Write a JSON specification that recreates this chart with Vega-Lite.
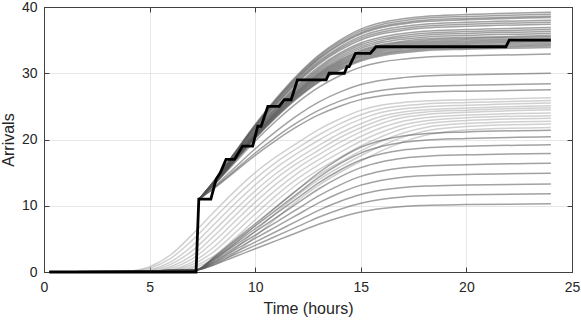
{
"$schema": "https://vega.github.io/schema/vega-lite/v6.json",
"width": 528, "height": 265,
"autosize": {"type": "none"},
"padding": {"left": 44, "top": 7, "right": 9, "bottom": 49},
"config": {
 "font": "Liberation Sans",
 "view": {"stroke": "#404040", "strokeWidth": 1},
 "axis": {"domainColor": "#404040", "tickColor": "#404040", "labelColor": "#262626", "titleColor": "#262626", "labelFontSize": 14, "titleFontSize": 16, "titleFontWeight": "normal", "tickSize": -5, "labelFlush": false, "labelOverlap": false, "gridColor": "#e6e6e6", "gridWidth": 1}
},
"datasets": {
"light": [
{"c":1,"t":0.25,"y":0},{"c":1,"t":3.5,"y":0},{"c":1,"t":4,"y":0.1},{"c":1,"t":5,"y":0.8},{"c":1,"t":6,"y":2.6},{"c":1,"t":7,"y":5.6},{"c":1,"t":8,"y":8.9},{"c":1,"t":9,"y":12.1},{"c":1,"t":10,"y":15.0},{"c":1,"t":11,"y":17.4},{"c":1,"t":12,"y":19.5},{"c":1,"t":13,"y":21.5},{"c":1,"t":14,"y":23.1},{"c":1,"t":15,"y":24.4},{"c":1,"t":16,"y":25.2},{"c":1,"t":17,"y":25.6},{"c":1,"t":18,"y":25.8},{"c":1,"t":20,"y":26.0},{"c":1,"t":24,"y":26.3},
{"c":2,"t":0.25,"y":0},{"c":2,"t":3.75,"y":0},{"c":2,"t":4,"y":0.05},{"c":2,"t":5,"y":0.58},{"c":2,"t":6,"y":2.06},{"c":2,"t":7,"y":4.73},{"c":2,"t":8,"y":7.94},{"c":2,"t":9,"y":11.14},{"c":2,"t":10,"y":14.06},{"c":2,"t":11,"y":16.58},{"c":2,"t":12,"y":18.7},{"c":2,"t":13,"y":20.68},{"c":2,"t":14,"y":22.36},{"c":2,"t":15,"y":23.74},{"c":2,"t":16,"y":24.64},{"c":2,"t":17,"y":25.11},{"c":2,"t":18,"y":25.36},{"c":2,"t":20,"y":25.59},{"c":2,"t":24,"y":25.9},
{"c":3,"t":0.25,"y":0},{"c":3,"t":4,"y":0},{"c":3,"t":5,"y":0.33},{"c":3,"t":6,"y":1.53},{"c":3,"t":7,"y":3.88},{"c":3,"t":8,"y":7.01},{"c":3,"t":9,"y":10.2},{"c":3,"t":10,"y":13.16},{"c":3,"t":11,"y":15.76},{"c":3,"t":12,"y":17.93},{"c":3,"t":13,"y":19.89},{"c":3,"t":14,"y":21.65},{"c":3,"t":15,"y":23.08},{"c":3,"t":16,"y":24.1},{"c":3,"t":17,"y":24.63},{"c":3,"t":18,"y":24.91},{"c":3,"t":20,"y":25.17},{"c":3,"t":24,"y":25.5},
{"c":4,"t":0.25,"y":0},{"c":4,"t":4.25,"y":0},{"c":4,"t":5,"y":0.21},{"c":4,"t":6,"y":1.15},{"c":4,"t":7,"y":3.15},{"c":4,"t":8,"y":6.12},{"c":4,"t":9,"y":9.26},{"c":4,"t":10,"y":12.25},{"c":4,"t":11,"y":14.91},{"c":4,"t":12,"y":17.13},{"c":4,"t":13,"y":19.09},{"c":4,"t":14,"y":20.91},{"c":4,"t":15,"y":22.38},{"c":4,"t":16,"y":23.51},{"c":4,"t":17,"y":24.15},{"c":4,"t":18,"y":24.47},{"c":4,"t":20,"y":24.75},{"c":4,"t":24,"y":25.1},
{"c":5,"t":0.25,"y":0},{"c":5,"t":4.5,"y":0},{"c":5,"t":5,"y":0.1},{"c":5,"t":6,"y":0.79},{"c":5,"t":7,"y":2.46},{"c":5,"t":8,"y":5.28},{"c":5,"t":9,"y":8.38},{"c":5,"t":10,"y":11.41},{"c":5,"t":11,"y":14.14},{"c":5,"t":12,"y":16.42},{"c":5,"t":13,"y":18.38},{"c":5,"t":14,"y":20.26},{"c":5,"t":15,"y":21.77},{"c":5,"t":16,"y":23.01},{"c":5,"t":17,"y":23.76},{"c":5,"t":18,"y":24.13},{"c":5,"t":20,"y":24.43},{"c":5,"t":24,"y":24.8},
{"c":6,"t":0.25,"y":0},{"c":6,"t":4.75,"y":0},{"c":6,"t":5,"y":0.05},{"c":6,"t":6,"y":0.55},{"c":6,"t":7,"y":1.95},{"c":6,"t":8,"y":4.47},{"c":6,"t":9,"y":7.51},{"c":6,"t":10,"y":10.54},{"c":6,"t":11,"y":13.3},{"c":6,"t":12,"y":15.68},{"c":6,"t":13,"y":17.69},{"c":6,"t":14,"y":19.56},{"c":6,"t":15,"y":21.16},{"c":6,"t":16,"y":22.45},{"c":6,"t":17,"y":23.31},{"c":6,"t":18,"y":23.75},{"c":6,"t":20,"y":24.11},{"c":6,"t":24,"y":24.5},
{"c":7,"t":0.25,"y":0},{"c":7,"t":5,"y":0},{"c":7,"t":6,"y":0.31},{"c":7,"t":7,"y":1.45},{"c":7,"t":8,"y":3.66},{"c":7,"t":9,"y":6.63},{"c":7,"t":10,"y":9.64},{"c":7,"t":11,"y":12.44},{"c":7,"t":12,"y":14.89},{"c":7,"t":13,"y":16.94},{"c":7,"t":14,"y":18.8},{"c":7,"t":15,"y":20.46},{"c":7,"t":16,"y":21.81},{"c":7,"t":17,"y":22.77},{"c":7,"t":18,"y":23.28},{"c":7,"t":20,"y":23.69},{"c":7,"t":24,"y":24.0},
{"c":8,"t":0.25,"y":0},{"c":8,"t":5.25,"y":0},{"c":8,"t":6,"y":0.2},{"c":8,"t":7,"y":1.09},{"c":8,"t":8,"y":2.97},{"c":8,"t":9,"y":5.78},{"c":8,"t":10,"y":8.75},{"c":8,"t":11,"y":11.57},{"c":8,"t":12,"y":14.08},{"c":8,"t":13,"y":16.18},{"c":8,"t":14,"y":18.02},{"c":8,"t":15,"y":19.74},{"c":8,"t":16,"y":21.13},{"c":8,"t":17,"y":22.2},{"c":8,"t":18,"y":22.8},{"c":8,"t":20,"y":23.27},{"c":8,"t":24,"y":23.6},
{"c":9,"t":0.25,"y":0},{"c":9,"t":5.5,"y":0},{"c":9,"t":6,"y":0.09},{"c":9,"t":7,"y":0.75},{"c":9,"t":8,"y":2.31},{"c":9,"t":9,"y":4.96},{"c":9,"t":10,"y":7.88},{"c":9,"t":11,"y":10.72},{"c":9,"t":12,"y":13.28},{"c":9,"t":13,"y":15.42},{"c":9,"t":14,"y":17.27},{"c":9,"t":15,"y":19.04},{"c":9,"t":16,"y":20.46},{"c":9,"t":17,"y":21.62},{"c":9,"t":18,"y":22.32},{"c":9,"t":20,"y":22.86},{"c":9,"t":24,"y":23.2},
{"c":10,"t":0.25,"y":0},{"c":10,"t":5.75,"y":0},{"c":10,"t":6,"y":0.05},{"c":10,"t":7,"y":0.52},{"c":10,"t":8,"y":1.82},{"c":10,"t":9,"y":4.18},{"c":10,"t":10,"y":7.02},{"c":10,"t":11,"y":9.85},{"c":10,"t":12,"y":12.43},{"c":10,"t":13,"y":14.66},{"c":10,"t":14,"y":16.53},{"c":10,"t":15,"y":18.29},{"c":10,"t":16,"y":19.77},{"c":10,"t":17,"y":20.99},{"c":10,"t":18,"y":21.79},{"c":10,"t":20,"y":22.42},{"c":10,"t":24,"y":22.76},
{"c":11,"t":0.25,"y":0},{"c":11,"t":6,"y":0},{"c":11,"t":7,"y":0.29},{"c":11,"t":8,"y":1.35},{"c":11,"t":9,"y":3.42},{"c":11,"t":10,"y":6.19},{"c":11,"t":11,"y":9.0},{"c":11,"t":12,"y":11.61},{"c":11,"t":13,"y":13.91},{"c":11,"t":14,"y":15.82},{"c":11,"t":15,"y":17.55},{"c":11,"t":16,"y":19.1},{"c":11,"t":17,"y":20.36},{"c":11,"t":18,"y":21.26},{"c":11,"t":20,"y":21.98},{"c":11,"t":24,"y":22.34},
{"c":12,"t":0.25,"y":0},{"c":12,"t":6.25,"y":0},{"c":12,"t":7,"y":0.19},{"c":12,"t":8,"y":1.01},{"c":12,"t":9,"y":2.76},{"c":12,"t":10,"y":5.37},{"c":12,"t":11,"y":8.12},{"c":12,"t":12,"y":10.74},{"c":12,"t":13,"y":13.07},{"c":12,"t":14,"y":15.02},{"c":12,"t":15,"y":16.73},{"c":12,"t":16,"y":18.33},{"c":12,"t":17,"y":19.61},{"c":12,"t":18,"y":20.6},{"c":12,"t":20,"y":21.45},{"c":12,"t":24,"y":21.82}
],
"mid": [
{"c":1,"t":0.25,"y":0},{"c":1,"t":7.2,"y":0.3},{"c":1,"t":8,"y":1.03},{"c":1,"t":9,"y":2.27},{"c":1,"t":10,"y":3.5},{"c":1,"t":11,"y":4.74},{"c":1,"t":12,"y":5.97},{"c":1,"t":13,"y":7.21},{"c":1,"t":14,"y":8.24},{"c":1,"t":15,"y":9.06},{"c":1,"t":16,"y":9.58},{"c":1,"t":17,"y":9.89},{"c":1,"t":18,"y":10.04},{"c":1,"t":20,"y":10.18},{"c":1,"t":24,"y":10.3},
{"c":2,"t":0.25,"y":0},{"c":2,"t":7.2,"y":0.3},{"c":2,"t":8,"y":1.18},{"c":2,"t":9,"y":2.6},{"c":2,"t":10,"y":4.01},{"c":2,"t":11,"y":5.43},{"c":2,"t":12,"y":6.84},{"c":2,"t":13,"y":8.26},{"c":2,"t":14,"y":9.44},{"c":2,"t":15,"y":10.38},{"c":2,"t":16,"y":10.97},{"c":2,"t":17,"y":11.33},{"c":2,"t":18,"y":11.51},{"c":2,"t":20,"y":11.66},{"c":2,"t":24,"y":11.8},
{"c":3,"t":0.25,"y":0},{"c":3,"t":7.2,"y":0.3},{"c":3,"t":8,"y":1.33},{"c":3,"t":9,"y":2.93},{"c":3,"t":10,"y":4.52},{"c":3,"t":11,"y":6.12},{"c":3,"t":12,"y":7.71},{"c":3,"t":13,"y":9.31},{"c":3,"t":14,"y":10.64},{"c":3,"t":15,"y":11.7},{"c":3,"t":16,"y":12.37},{"c":3,"t":17,"y":12.77},{"c":3,"t":18,"y":12.97},{"c":3,"t":20,"y":13.14},{"c":3,"t":24,"y":13.3},
{"c":4,"t":0.25,"y":0},{"c":4,"t":7.2,"y":0.3},{"c":4,"t":8,"y":1.49},{"c":4,"t":9,"y":3.28},{"c":4,"t":10,"y":5.07},{"c":4,"t":11,"y":6.85},{"c":4,"t":12,"y":8.64},{"c":4,"t":13,"y":10.43},{"c":4,"t":14,"y":11.92},{"c":4,"t":15,"y":13.11},{"c":4,"t":16,"y":13.86},{"c":4,"t":17,"y":14.3},{"c":4,"t":18,"y":14.53},{"c":4,"t":20,"y":14.72},{"c":4,"t":24,"y":14.9},
{"c":5,"t":0.25,"y":0},{"c":5,"t":7.2,"y":0.3},{"c":5,"t":8,"y":1.64},{"c":5,"t":9,"y":3.61},{"c":5,"t":10,"y":5.58},{"c":5,"t":11,"y":7.54},{"c":5,"t":12,"y":9.51},{"c":5,"t":13,"y":11.48},{"c":5,"t":14,"y":13.12},{"c":5,"t":15,"y":14.43},{"c":5,"t":16,"y":15.25},{"c":5,"t":17,"y":15.74},{"c":5,"t":18,"y":15.99},{"c":5,"t":20,"y":16.2},{"c":5,"t":24,"y":16.4},
{"c":6,"t":0.25,"y":0},{"c":6,"t":7.2,"y":0.3},{"c":6,"t":8,"y":1.79},{"c":6,"t":9,"y":3.94},{"c":6,"t":10,"y":6.09},{"c":6,"t":11,"y":8.23},{"c":6,"t":12,"y":10.38},{"c":6,"t":13,"y":12.53},{"c":6,"t":14,"y":14.32},{"c":6,"t":15,"y":15.75},{"c":6,"t":16,"y":16.65},{"c":6,"t":17,"y":17.18},{"c":6,"t":18,"y":17.45},{"c":6,"t":20,"y":17.69},{"c":6,"t":24,"y":17.9},
{"c":7,"t":0.25,"y":0},{"c":7,"t":7.2,"y":0.3},{"c":7,"t":8,"y":1.92},{"c":7,"t":9,"y":4.22},{"c":7,"t":10,"y":6.53},{"c":7,"t":11,"y":8.83},{"c":7,"t":12,"y":11.14},{"c":7,"t":13,"y":13.44},{"c":7,"t":14,"y":15.36},{"c":7,"t":15,"y":16.9},{"c":7,"t":16,"y":17.86},{"c":7,"t":17,"y":18.43},{"c":7,"t":18,"y":18.72},{"c":7,"t":20,"y":18.97},{"c":7,"t":24,"y":19.2},
{"c":8,"t":0.25,"y":0},{"c":8,"t":7.2,"y":0.3},{"c":8,"t":8,"y":2.04},{"c":8,"t":9,"y":4.49},{"c":8,"t":10,"y":6.94},{"c":8,"t":11,"y":9.38},{"c":8,"t":12,"y":11.83},{"c":8,"t":13,"y":14.28},{"c":8,"t":14,"y":16.32},{"c":8,"t":15,"y":17.95},{"c":8,"t":16,"y":18.97},{"c":8,"t":17,"y":19.58},{"c":8,"t":18,"y":19.89},{"c":8,"t":20,"y":20.16},{"c":8,"t":24,"y":20.4},
{"c":9,"t":0.25,"y":0},{"c":9,"t":7.2,"y":0.3},{"c":9,"t":8,"y":2.14},{"c":9,"t":9,"y":4.71},{"c":9,"t":10,"y":7.28},{"c":9,"t":11,"y":9.84},{"c":9,"t":12,"y":12.41},{"c":9,"t":13,"y":14.98},{"c":9,"t":14,"y":17.12},{"c":9,"t":15,"y":18.83},{"c":9,"t":16,"y":19.9},{"c":9,"t":17,"y":20.54},{"c":9,"t":18,"y":20.87},{"c":9,"t":20,"y":21.14},{"c":9,"t":24,"y":21.4}
],
"upper": [
{"c":1,"t":7.35,"y":11},{"c":1,"t":8,"y":13.54},{"c":1,"t":9,"y":17.91},{"c":1,"t":10,"y":22.28},{"c":1,"t":11,"y":26.23},{"c":1,"t":12,"y":29.75},{"c":1,"t":13,"y":32.71},{"c":1,"t":14,"y":34.97},{"c":1,"t":15,"y":36.66},{"c":1,"t":16,"y":37.65},{"c":1,"t":17,"y":38.21},{"c":1,"t":18,"y":38.58},{"c":1,"t":20,"y":38.86},{"c":1,"t":24,"y":39.2},
{"c":2,"t":7.35,"y":11},{"c":2,"t":8,"y":13.51},{"c":2,"t":9,"y":17.84},{"c":2,"t":10,"y":22.16},{"c":2,"t":11,"y":26.07},{"c":2,"t":12,"y":29.55},{"c":2,"t":13,"y":32.48},{"c":2,"t":14,"y":34.72},{"c":2,"t":15,"y":36.39},{"c":2,"t":16,"y":37.37},{"c":2,"t":17,"y":37.92},{"c":2,"t":18,"y":38.29},{"c":2,"t":20,"y":38.57},{"c":2,"t":24,"y":38.9},
{"c":3,"t":7.35,"y":11},{"c":3,"t":8,"y":13.48},{"c":3,"t":9,"y":17.76},{"c":3,"t":10,"y":22.04},{"c":3,"t":11,"y":25.9},{"c":3,"t":12,"y":29.35},{"c":3,"t":13,"y":32.25},{"c":3,"t":14,"y":34.46},{"c":3,"t":15,"y":36.12},{"c":3,"t":16,"y":37.08},{"c":3,"t":17,"y":37.63},{"c":3,"t":18,"y":37.99},{"c":3,"t":20,"y":38.27},{"c":3,"t":24,"y":38.6},
{"c":4,"t":7.35,"y":11},{"c":4,"t":8,"y":13.47},{"c":4,"t":9,"y":17.71},{"c":4,"t":10,"y":21.96},{"c":4,"t":11,"y":25.8},{"c":4,"t":12,"y":29.22},{"c":4,"t":13,"y":32.1},{"c":4,"t":14,"y":34.29},{"c":4,"t":15,"y":35.93},{"c":4,"t":16,"y":36.89},{"c":4,"t":17,"y":37.44},{"c":4,"t":18,"y":37.8},{"c":4,"t":20,"y":38.07},{"c":4,"t":24,"y":38.4},
{"c":5,"t":7.35,"y":11},{"c":5,"t":8,"y":13.43},{"c":5,"t":9,"y":17.62},{"c":5,"t":10,"y":21.8},{"c":5,"t":11,"y":25.58},{"c":5,"t":12,"y":28.96},{"c":5,"t":13,"y":31.79},{"c":5,"t":14,"y":33.95},{"c":5,"t":15,"y":35.57},{"c":5,"t":16,"y":36.52},{"c":5,"t":17,"y":37.06},{"c":5,"t":18,"y":37.41},{"c":5,"t":20,"y":37.68},{"c":5,"t":24,"y":38.0},
{"c":6,"t":7.35,"y":11},{"c":6,"t":8,"y":13.4},{"c":6,"t":9,"y":17.54},{"c":6,"t":10,"y":21.68},{"c":6,"t":11,"y":25.42},{"c":6,"t":12,"y":28.76},{"c":6,"t":13,"y":31.56},{"c":6,"t":14,"y":33.7},{"c":6,"t":15,"y":35.3},{"c":6,"t":16,"y":36.23},{"c":6,"t":17,"y":36.77},{"c":6,"t":18,"y":37.11},{"c":6,"t":20,"y":37.38},{"c":6,"t":24,"y":37.7},
{"c":7,"t":7.35,"y":11},{"c":7,"t":8,"y":13.38},{"c":7,"t":9,"y":17.47},{"c":7,"t":10,"y":21.56},{"c":7,"t":11,"y":25.26},{"c":7,"t":12,"y":28.56},{"c":7,"t":13,"y":31.33},{"c":7,"t":14,"y":33.44},{"c":7,"t":15,"y":35.02},{"c":7,"t":16,"y":35.95},{"c":7,"t":17,"y":36.48},{"c":7,"t":18,"y":36.82},{"c":7,"t":20,"y":37.08},{"c":7,"t":24,"y":37.4},
{"c":8,"t":7.35,"y":11},{"c":8,"t":8,"y":13.33},{"c":8,"t":9,"y":17.35},{"c":8,"t":10,"y":21.36},{"c":8,"t":11,"y":24.99},{"c":8,"t":12,"y":28.22},{"c":8,"t":13,"y":30.94},{"c":8,"t":14,"y":33.02},{"c":8,"t":15,"y":34.57},{"c":8,"t":16,"y":35.48},{"c":8,"t":17,"y":35.99},{"c":8,"t":18,"y":36.33},{"c":8,"t":20,"y":36.59},{"c":8,"t":24,"y":36.9},
{"c":9,"t":7.35,"y":11},{"c":9,"t":8,"y":13.3},{"c":9,"t":9,"y":17.27},{"c":9,"t":10,"y":21.24},{"c":9,"t":11,"y":24.82},{"c":9,"t":12,"y":28.02},{"c":9,"t":13,"y":30.71},{"c":9,"t":14,"y":32.76},{"c":9,"t":15,"y":34.3},{"c":9,"t":16,"y":35.19},{"c":9,"t":17,"y":35.7},{"c":9,"t":18,"y":36.04},{"c":9,"t":20,"y":36.29},{"c":9,"t":24,"y":36.6},
{"c":10,"t":7.35,"y":11},{"c":10,"t":8,"y":13.28},{"c":10,"t":9,"y":17.2},{"c":10,"t":10,"y":21.12},{"c":10,"t":11,"y":24.66},{"c":10,"t":12,"y":27.82},{"c":10,"t":13,"y":30.48},{"c":10,"t":14,"y":32.51},{"c":10,"t":15,"y":34.02},{"c":10,"t":16,"y":34.91},{"c":10,"t":17,"y":35.41},{"c":10,"t":18,"y":35.74},{"c":10,"t":20,"y":36.0},{"c":10,"t":24,"y":36.3},
{"c":11,"t":7.35,"y":11},{"c":11,"t":8,"y":13.25},{"c":11,"t":9,"y":17.13},{"c":11,"t":10,"y":21.0},{"c":11,"t":11,"y":24.5},{"c":11,"t":12,"y":27.63},{"c":11,"t":13,"y":30.25},{"c":11,"t":14,"y":32.25},{"c":11,"t":15,"y":33.75},{"c":11,"t":16,"y":34.63},{"c":11,"t":17,"y":35.13},{"c":11,"t":18,"y":35.45},{"c":11,"t":20,"y":35.7},{"c":11,"t":24,"y":36.0},
{"c":12,"t":7.35,"y":11},{"c":12,"t":8,"y":13.22},{"c":12,"t":9,"y":17.05},{"c":12,"t":10,"y":20.88},{"c":12,"t":11,"y":24.34},{"c":12,"t":12,"y":27.43},{"c":12,"t":13,"y":30.02},{"c":12,"t":14,"y":32.0},{"c":12,"t":15,"y":33.48},{"c":12,"t":16,"y":34.34},{"c":12,"t":17,"y":34.84},{"c":12,"t":18,"y":35.16},{"c":12,"t":20,"y":35.4},{"c":12,"t":24,"y":35.7},
{"c":13,"t":7.35,"y":11},{"c":13,"t":8,"y":13.21},{"c":13,"t":9,"y":17.0},{"c":13,"t":10,"y":20.8},{"c":13,"t":11,"y":24.23},{"c":13,"t":12,"y":27.29},{"c":13,"t":13,"y":29.87},{"c":13,"t":14,"y":31.83},{"c":13,"t":15,"y":33.3},{"c":13,"t":16,"y":34.15},{"c":13,"t":17,"y":34.64},{"c":13,"t":18,"y":34.96},{"c":13,"t":20,"y":35.21},{"c":13,"t":24,"y":35.5},
{"c":14,"t":7.35,"y":11},{"c":14,"t":8,"y":13.19},{"c":14,"t":9,"y":16.95},{"c":14,"t":10,"y":20.72},{"c":14,"t":11,"y":24.12},{"c":14,"t":12,"y":27.16},{"c":14,"t":13,"y":29.71},{"c":14,"t":14,"y":31.66},{"c":14,"t":15,"y":33.11},{"c":14,"t":16,"y":33.96},{"c":14,"t":17,"y":34.45},{"c":14,"t":18,"y":34.77},{"c":14,"t":20,"y":35.01},{"c":14,"t":24,"y":35.3},
{"c":15,"t":7.35,"y":11},{"c":15,"t":8,"y":13.17},{"c":15,"t":9,"y":16.9},{"c":15,"t":10,"y":20.64},{"c":15,"t":11,"y":24.01},{"c":15,"t":12,"y":27.03},{"c":15,"t":13,"y":29.56},{"c":15,"t":14,"y":31.49},{"c":15,"t":15,"y":32.93},{"c":15,"t":16,"y":33.77},{"c":15,"t":17,"y":34.26},{"c":15,"t":18,"y":34.57},{"c":15,"t":20,"y":34.81},{"c":15,"t":24,"y":35.1},
{"c":16,"t":7.35,"y":11},{"c":16,"t":8,"y":13.15},{"c":16,"t":9,"y":16.86},{"c":16,"t":10,"y":20.56},{"c":16,"t":11,"y":23.91},{"c":16,"t":12,"y":26.89},{"c":16,"t":13,"y":29.4},{"c":16,"t":14,"y":31.32},{"c":16,"t":15,"y":32.75},{"c":16,"t":16,"y":33.59},{"c":16,"t":17,"y":34.06},{"c":16,"t":18,"y":34.37},{"c":16,"t":20,"y":34.61},{"c":16,"t":24,"y":34.9},
{"c":17,"t":7.35,"y":11},{"c":17,"t":8,"y":13.13},{"c":17,"t":9,"y":16.81},{"c":17,"t":10,"y":20.48},{"c":17,"t":11,"y":23.8},{"c":17,"t":12,"y":26.76},{"c":17,"t":13,"y":29.25},{"c":17,"t":14,"y":31.15},{"c":17,"t":15,"y":32.57},{"c":17,"t":16,"y":33.4},{"c":17,"t":17,"y":33.87},{"c":17,"t":18,"y":34.18},{"c":17,"t":20,"y":34.42},{"c":17,"t":24,"y":34.7},
{"c":18,"t":7.35,"y":11},{"c":18,"t":8,"y":13.12},{"c":18,"t":9,"y":16.76},{"c":18,"t":10,"y":20.4},{"c":18,"t":11,"y":23.69},{"c":18,"t":12,"y":26.63},{"c":18,"t":13,"y":29.1},{"c":18,"t":14,"y":30.98},{"c":18,"t":15,"y":32.39},{"c":18,"t":16,"y":33.21},{"c":18,"t":17,"y":33.68},{"c":18,"t":18,"y":33.98},{"c":18,"t":20,"y":34.22},{"c":18,"t":24,"y":34.5},
{"c":19,"t":7.35,"y":11},{"c":19,"t":8,"y":13.1},{"c":19,"t":9,"y":16.71},{"c":19,"t":10,"y":20.32},{"c":19,"t":11,"y":23.58},{"c":19,"t":12,"y":26.49},{"c":19,"t":13,"y":28.94},{"c":19,"t":14,"y":30.81},{"c":19,"t":15,"y":32.2},{"c":19,"t":16,"y":33.02},{"c":19,"t":17,"y":33.48},{"c":19,"t":18,"y":33.79},{"c":19,"t":20,"y":34.02},{"c":19,"t":24,"y":34.3},
{"c":20,"t":7.35,"y":11},{"c":20,"t":8,"y":13.08},{"c":20,"t":9,"y":16.66},{"c":20,"t":10,"y":20.24},{"c":20,"t":11,"y":23.47},{"c":20,"t":12,"y":26.36},{"c":20,"t":13,"y":28.79},{"c":20,"t":14,"y":30.64},{"c":20,"t":15,"y":32.02},{"c":20,"t":16,"y":32.83},{"c":20,"t":17,"y":33.29},{"c":20,"t":18,"y":33.59},{"c":20,"t":20,"y":33.82},{"c":20,"t":24,"y":34.1},
{"c":21,"t":7.35,"y":11},{"c":21,"t":8,"y":13.06},{"c":21,"t":9,"y":16.61},{"c":21,"t":10,"y":20.16},{"c":21,"t":11,"y":23.37},{"c":21,"t":12,"y":26.23},{"c":21,"t":13,"y":28.63},{"c":21,"t":14,"y":30.47},{"c":21,"t":15,"y":31.84},{"c":21,"t":16,"y":32.64},{"c":21,"t":17,"y":33.1},{"c":21,"t":18,"y":33.4},{"c":21,"t":20,"y":33.63},{"c":21,"t":24,"y":33.9},
{"c":22,"t":7.35,"y":11},{"c":22,"t":8,"y":12.97},{"c":22,"t":9,"y":16.37},{"c":22,"t":10,"y":19.76},{"c":22,"t":11,"y":22.83},{"c":22,"t":12,"y":25.56},{"c":22,"t":13,"y":27.86},{"c":22,"t":14,"y":29.62},{"c":22,"t":15,"y":30.93},{"c":22,"t":16,"y":31.7},{"c":22,"t":17,"y":32.13},{"c":22,"t":18,"y":32.42},{"c":22,"t":20,"y":32.64},{"c":22,"t":24,"y":32.9},
{"c":23,"t":7.35,"y":11},{"c":23,"t":8,"y":12.71},{"c":23,"t":9,"y":15.66},{"c":23,"t":10,"y":18.6},{"c":23,"t":11,"y":21.26},{"c":23,"t":12,"y":23.64},{"c":23,"t":13,"y":25.63},{"c":23,"t":14,"y":27.15},{"c":23,"t":15,"y":28.29},{"c":23,"t":16,"y":28.96},{"c":23,"t":17,"y":29.34},{"c":23,"t":18,"y":29.58},{"c":23,"t":20,"y":29.77},{"c":23,"t":24,"y":30.0},
{"c":24,"t":7.35,"y":11},{"c":24,"t":8,"y":12.57},{"c":24,"t":9,"y":15.26},{"c":24,"t":10,"y":17.96},{"c":24,"t":11,"y":20.4},{"c":24,"t":12,"y":22.57},{"c":24,"t":13,"y":24.4},{"c":24,"t":14,"y":25.79},{"c":24,"t":15,"y":26.83},{"c":24,"t":16,"y":27.44},{"c":24,"t":17,"y":27.79},{"c":24,"t":18,"y":28.02},{"c":24,"t":20,"y":28.19},{"c":24,"t":24,"y":28.4},
{"c":25,"t":7.35,"y":11},{"c":25,"t":8,"y":12.49},{"c":25,"t":9,"y":15.04},{"c":25,"t":10,"y":17.6},{"c":25,"t":11,"y":19.91},{"c":25,"t":12,"y":21.97},{"c":25,"t":13,"y":23.71},{"c":25,"t":14,"y":25.03},{"c":25,"t":15,"y":26.02},{"c":25,"t":16,"y":26.59},{"c":25,"t":17,"y":26.92},{"c":25,"t":18,"y":27.14},{"c":25,"t":20,"y":27.3},{"c":25,"t":24,"y":27.5}
],
"obs": [
{"t":0.25,"y":0},{"t":7.2,"y":0},{"t":7.33,"y":11},{"t":7.9,"y":11},{"t":8.15,"y":14},{"t":8.35,"y":15},{"t":8.62,"y":17},{"t":9.02,"y":17},{"t":9.4,"y":19},{"t":9.88,"y":19},{"t":10.12,"y":22},{"t":10.28,"y":22},{"t":10.6,"y":25},{"t":11.14,"y":25},{"t":11.38,"y":26},{"t":11.7,"y":26},{"t":12.0,"y":29},{"t":13.36,"y":29},{"t":13.5,"y":30},{"t":14.22,"y":30},{"t":14.35,"y":31},{"t":14.45,"y":31},{"t":14.75,"y":33},{"t":15.45,"y":33},{"t":15.72,"y":34},{"t":21.87,"y":34},{"t":22.03,"y":35},{"t":24.0,"y":35}
]
},
"layer": [
 {"data": {"name": "light"},
  "mark": {"type": "line", "interpolate": "monotone", "stroke": "#aaaaaa", "strokeOpacity": 0.55, "strokeWidth": 1.5},
  "encoding": {
   "x": {"field": "t", "type": "quantitative", "scale": {"domain": [0, 25], "nice": false}, "axis": {"orient": "bottom", "values": [0, 5, 10, 15, 20, 25], "title": "Time (hours)", "grid": true, "labelPadding": 13, "titlePadding": 6}},
   "y": {"field": "y", "type": "quantitative", "scale": {"domain": [0, 40], "nice": false}, "axis": {"orient": "left", "values": [0, 10, 20, 30, 40], "title": "Arrivals", "grid": true, "labelPadding": 12, "titlePadding": 5}},
   "detail": {"field": "c", "type": "nominal"}}},
 {"data": {"name": "mid"},
  "mark": {"type": "line", "interpolate": "monotone", "stroke": "#555555", "strokeOpacity": 0.55, "strokeWidth": 1.5},
  "encoding": {
   "x": {"field": "t", "type": "quantitative", "axis": null},
   "y": {"field": "y", "type": "quantitative", "axis": null},
   "detail": {"field": "c", "type": "nominal"}}},
 {"data": {"name": "upper"},
  "mark": {"type": "line", "interpolate": "monotone", "stroke": "#555555", "strokeOpacity": 0.55, "strokeWidth": 1.5},
  "encoding": {
   "x": {"field": "t", "type": "quantitative", "axis": null},
   "y": {"field": "y", "type": "quantitative", "axis": null},
   "detail": {"field": "c", "type": "nominal"}}},
 {"data": {"name": "obs"},
  "mark": {"type": "line", "stroke": "#000000", "strokeWidth": 2.8, "strokeJoin": "miter"},
  "encoding": {
   "x": {"field": "t", "type": "quantitative", "axis": {"orient": "top", "values": [0, 5, 10, 15, 20, 25], "labels": false, "title": null, "grid": false}},
   "y": {"field": "y", "type": "quantitative", "axis": {"orient": "right", "values": [0, 10, 20, 30, 40], "labels": false, "title": null, "grid": false}}}}
],
"resolve": {"axis": {"x": "independent", "y": "independent"}}
}
